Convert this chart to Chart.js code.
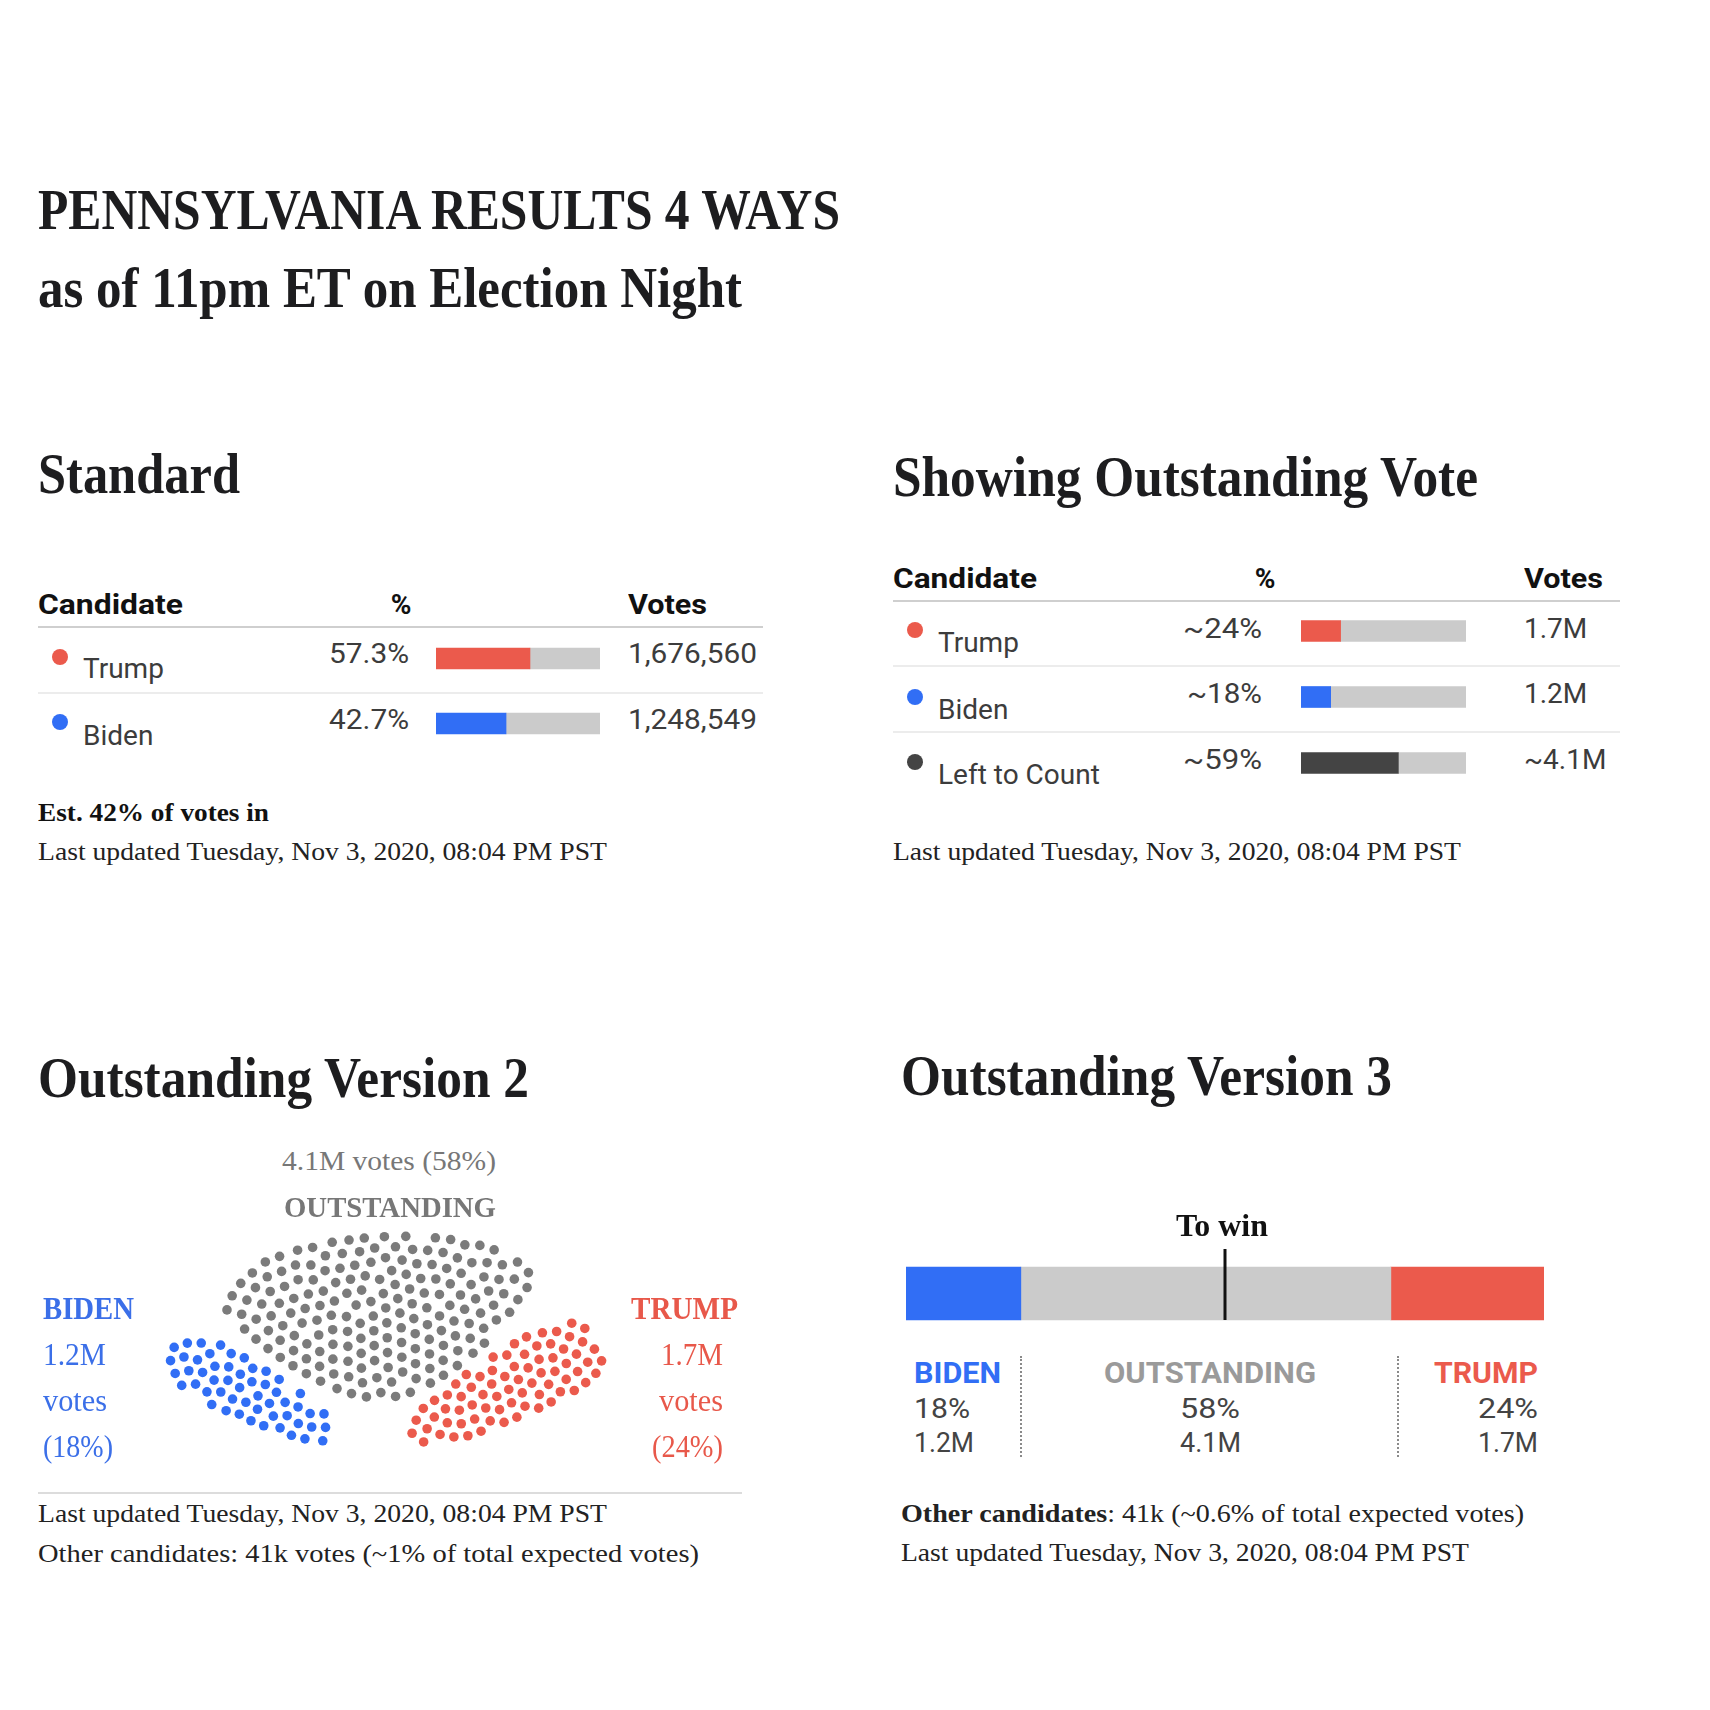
<!DOCTYPE html>
<html><head><meta charset="utf-8">
<script src="https://cdn.jsdelivr.net/npm/chart.js@4"></script>
<style>
html,body{margin:0;padding:0;background:#fff;}
#root{position:relative;width:1710px;height:1710px;overflow:hidden;background:#fff;}
.t{position:absolute;white-space:nowrap;line-height:normal;transform-origin:0 0;}
.serif{font-family:"Liberation Serif","DejaVu Serif",serif;}
.sans{font-family:Roboto,"Liberation Sans",sans-serif;}
canvas{position:absolute;}
.blk{position:absolute;}
</style></head><body><div id="root"></div>
<script>
// ---------------- DATA ----------------
const stdCandidates = ['Trump', 'Biden'];
const stdPct = [57.3, 42.7];
const stdPctLabels = ['57.3%', '42.7%'];
const stdVotes = ['1,676,560', '1,248,549'];

const outCandidates = ['Trump', 'Biden', 'Left to Count'];
const outPct = [24, 18, 59];
const outPctLabels = ['~24%', '~18%', '~59%'];
const outVotes = ['1.7M', '1.2M', '~4.1M'];

const v2Groups = ['Biden', 'Outstanding', 'Trump'];
const v2DotCounts = [53, 181, 74];

const v3Segments = ['BIDEN', 'OUTSTANDING', 'TRUMP'];
const v3Pct = [18, 58, 24];
const v3PctLabels = ['18%', '58%', '24%'];
const v3Votes = ['1.2M', '4.1M', '1.7M'];
const toWinPct = 50;

// ---------------- STYLE ----------------
const RED = '#eb5a4c', BLUE = '#316ef5', TRACK = '#cbcbcb', DARK = '#444444', DOTGRAY = '#7b7b7b';
const INK = '#1d1d1f', BODY = '#3c3c3c';
const root = document.getElementById('root');

function T(html, x, y, o) {
  const d = document.createElement('div');
  d.className = 't ' + (o.cls || 'serif');
  d.style.fontSize = o.size + 'px';
  d.style.fontWeight = o.bold ? '700' : '400';
  d.style.color = o.color || INK;
  d.innerHTML = html + '<span style="display:inline-block;width:0;height:0;vertical-align:baseline"></span>';
  root.appendChild(d);
  const strut = d.lastChild;
  const w = d.getBoundingClientRect().width;
  const k = o.w ? o.w / w : 1;
  const fw = w * k;
  const a = o.anchor || 'left';
  const left = a === 'left' ? x : a === 'right' ? x - fw : x - fw / 2;
  d.style.left = left + 'px';
  d.style.top = (y - strut.offsetTop) + 'px';
  if (k !== 1) d.style.transform = 'scaleX(' + k + ')';
  return d;
}
function box(x, y, w, h, css) {
  const d = document.createElement('div');
  d.className = 'blk';
  d.style.left = x + 'px'; d.style.top = y + 'px';
  d.style.width = w + 'px'; d.style.height = h + 'px';
  Object.assign(d.style, css);
  root.appendChild(d);
  return d;
}
function dot(cx, cy, r, color) { box(cx - r, cy - r, 2 * r, 2 * r, {background: color, borderRadius: '50%'}); }
function canvasAt(left, top, w, h) {
  const c = document.createElement('canvas');
  c.width = w; c.height = h;
  c.style.left = left + 'px'; c.style.top = top + 'px';
  c.style.width = w + 'px'; c.style.height = h + 'px';
  root.appendChild(c);
  return c;
}
function hbar(left, top, w, h, labels, datasets, thickness, plugins) {
  const c = canvasAt(left, top, w, h);
  return new Chart(c, {
    type: 'bar',
    data: {labels, datasets: datasets.map(d => Object.assign({barThickness: thickness, borderWidth: 0, borderSkipped: false}, d))},
    options: {
      indexAxis: 'y', responsive: false, animation: false, devicePixelRatio: 1,
      layout: {padding: 0},
      plugins: {legend: {display: false}, tooltip: {enabled: false}},
      scales: {x: {stacked: true, min: 0, max: 100, display: false}, y: {stacked: true, display: false}}
    },
    plugins: plugins || []
  });
}

// ---------------- HEADINGS ----------------
const H = {size: 58, bold: true, color: INK};
T('PENNSYLVANIA RESULTS 4 WAYS', 38, 229, Object.assign({w: 802}, H));
T('as of 11pm ET on Election Night', 38, 307, Object.assign({w: 704}, H));
T('Standard', 38, 493, Object.assign({w: 202}, H));
T('Showing Outstanding Vote', 893, 496, Object.assign({w: 585}, H));
T('Outstanding Version 2', 38, 1097, Object.assign({w: 491}, H));
T('Outstanding Version 3', 901, 1095, Object.assign({w: 491}, H));

const FOOT = {size: 26, color: '#222'};
const LAST = 'Last updated Tuesday, Nov 3, 2020, 08:04 PM PST';

// ---------------- TABLE 1: STANDARD ----------------
const S = {cls: 'sans', size: 28};
T('Candidate', 38, 614, Object.assign({}, S, {bold: true, color: '#111', w: 145}));
T('%', 401, 614, Object.assign({}, S, {bold: true, color: '#111', anchor: 'center'}));
T('Votes', 628, 614, Object.assign({}, S, {bold: true, color: '#111', w: 79}));
box(38, 626, 725, 2, {background: '#cfcfcf'});
box(38, 692, 725, 2, {background: '#ececec'});
const stdColors = [RED, BLUE];
const t1Rows = [{dot: 657, name: 678, val: 663}, {dot: 722, name: 745, val: 729}];
stdCandidates.forEach((c, i) => {
  dot(60, t1Rows[i].dot, 8, stdColors[i]);
  T(c, 83, t1Rows[i].name, Object.assign({}, S, {color: BODY}));
  T(stdPctLabels[i], 409, t1Rows[i].val, Object.assign({}, S, {color: BODY, anchor: 'right', w: 80}));
  T(stdVotes[i], 628, t1Rows[i].val, Object.assign({}, S, {color: BODY, w: 129}));
});
hbar(436, 626, 164, 130, stdCandidates, [
  {data: stdPct, backgroundColor: stdColors},
  {data: stdPct.map(v => 100 - v), backgroundColor: TRACK}
], 21);
T('Est. 42% of votes in', 38, 821, Object.assign({bold: true, w: 231}, FOOT, {color: '#111'}));
T(LAST, 38, 860, Object.assign({w: 569}, FOOT));

// ---------------- TABLE 2: OUTSTANDING ----------------
T('Candidate', 893, 588, Object.assign({}, S, {bold: true, color: '#111', w: 144}));
T('%', 1265, 588, Object.assign({}, S, {bold: true, color: '#111', anchor: 'center'}));
T('Votes', 1524, 588, Object.assign({}, S, {bold: true, color: '#111', w: 79}));
box(893, 600, 727, 2, {background: '#cfcfcf'});
box(893, 665, 727, 2, {background: '#ececec'});
box(893, 731, 727, 2, {background: '#ececec'});
const outColors = [RED, BLUE, DARK];
const t2Rows = [{dot: 630, name: 652, val: 638}, {dot: 697, name: 719, val: 703}, {dot: 762, name: 784, val: 769}];
const t2PctW = [79, 75, 79];
outCandidates.forEach((c, i) => {
  dot(915, t2Rows[i].dot, 8, outColors[i]);
  T(c, 938, t2Rows[i].name, Object.assign({}, S, {color: BODY}));
  T(outPctLabels[i], 1262, t2Rows[i].val, Object.assign({}, S, {color: BODY, anchor: 'right', w: t2PctW[i]}));
  T(outVotes[i], 1524, t2Rows[i].val, Object.assign({}, S, {color: BODY}));
});
hbar(1301, 598, 165, 198, outCandidates, [
  {data: outPct, backgroundColor: outColors},
  {data: outPct.map(v => 100 - v), backgroundColor: TRACK}
], 21);
T(LAST, 893, 860, Object.assign({w: 568}, FOOT));

// ---------------- VERSION 2: DOT CLUSTERS ----------------
const V2L = 38, V2T = 1215, V2W = 710, V2H = 260;
// cluster outlines (layout only, canvas-local pixels)
function bandShape(cx, cy, a, b, dirDeg, fat, p) {
  const t = dirDeg * Math.PI / 180, c = Math.cos(t), s = Math.sin(t);
  const m = (x, y) => {
    const u = x * c + y * s, v = -x * s + y * c;
    const bb = b * (1 + fat * u / a);
    return Math.abs(u / a) ** p + Math.abs(v / bb) ** p;
  };
  return {cx, cy, ext: Math.max(a, b) * 1.6, inside: (x, y) => m(x, y) <= 1};
}
function fanShape(cx, cy, rx, ryTop, ryBot, taper, rotDeg) {
  const t = rotDeg * Math.PI / 180, c = Math.cos(t), s = Math.sin(t);
  const m = (x, y) => {
    const X = x * c + y * s, Y = -x * s + y * c;
    const ny = Y < 0 ? Y / ryTop : Y / ryBot;
    if (Math.abs(ny) >= 1) return 2;
    const hw = rx * Math.sqrt(1 - ny * ny) * (ny > 0 ? (1 - taper * ny) : 1);
    return Math.max(Math.abs(ny), Math.abs(X) / hw);
  };
  return {cx, cy, ext: rx * 1.3, inside: (x, y) => m(x, y) <= 1};
}
const shapes = [
  bandShape(212, 180, 92, 27, 207.5, 0.3, 3),
  fanShape(340, 78, 157, 60, 107, 0.4, -4),
  bandShape(467, 175, 106, 33, -28, 0.3, 3)
];
// spread n dots evenly inside an outline: sunflower seed + collision relaxation
function layoutDots(shape, n) {
  const GA = Math.PI * (3 - Math.sqrt(5));
  let area = 0;
  for (let y = -shape.ext; y <= shape.ext; y++) for (let x = -shape.ext; x <= shape.ext; x++) if (shape.inside(x, y)) area++;
  const D = 1.02 * Math.sqrt(area / n * 2 / Math.sqrt(3));
  const base = [];
  for (let i = 0; i < 4000; i++) { const r = Math.sqrt(i + 0.5), a = i * GA; base.push([r * Math.cos(a), r * Math.sin(a)]); }
  let lo = 0.5, hi = 40;
  for (let it = 0; it < 60; it++) {
    const s = (lo + hi) / 2;
    const cnt = base.reduce((acc, q) => acc + (shape.inside(q[0] * s, q[1] * s) ? 1 : 0), 0);
    if (cnt >= n) lo = s; else hi = s;
  }
  const pts = base.map(q => [q[0] * lo, q[1] * lo]).filter(q => shape.inside(q[0], q[1])).slice(0, n);
  const pull = q => {
    if (shape.inside(q[0], q[1])) return;
    let a = 0, b = 1;
    for (let k = 0; k < 30; k++) { const m = (a + b) / 2; if (shape.inside(q[0] * m, q[1] * m)) a = m; else b = m; }
    q[0] *= a; q[1] *= a;
  };
  for (let it = 0; it < 220; it++) {
    for (let i = 0; i < pts.length; i++) for (let j = i + 1; j < pts.length; j++) {
      const dx = pts[j][0] - pts[i][0], dy = pts[j][1] - pts[i][1];
      const d = Math.hypot(dx, dy);
      if (d < D && d > 1e-6) {
        const f = (D - d) / d * 0.25;
        pts[i][0] -= dx * f; pts[i][1] -= dy * f;
        pts[j][0] += dx * f; pts[j][1] += dy * f;
      }
    }
    pts.forEach(pull);
  }
  return pts.map(q => ({x: shape.cx + q[0], y: shape.cy + q[1]}));
}
const v2Colors = [BLUE, DOTGRAY, RED];
const sc = canvasAt(V2L, V2T, V2W, V2H);
new Chart(sc, {
  type: 'scatter',
  data: {datasets: v2Groups.map((g, i) => ({
    label: g, data: layoutDots(shapes[i], v2DotCounts[i]),
    backgroundColor: v2Colors[i], borderWidth: 0, pointRadius: 4.8, pointHoverRadius: 4.8
  }))},
  options: {
    responsive: false, animation: false, devicePixelRatio: 1, layout: {padding: 0},
    plugins: {legend: {display: false}, tooltip: {enabled: false}},
    scales: {x: {type: 'linear', min: 0, max: V2W, display: false}, y: {type: 'linear', min: 0, max: V2H, reverse: true, display: false}}
  }
});
T('4.1M votes (58%)', 389, 1170, {size: 28, color: '#777', anchor: 'center', w: 214});
T('OUTSTANDING', 390, 1217, {size: 30, bold: true, color: '#777', anchor: 'center', w: 212});
const BL = '#3b6fe8', RL = '#e8584a';
T('BIDEN', 43, 1319, {size: 32, bold: true, color: BL, w: 91});
T(v3Votes[0], 43, 1365, {size: 32, color: BL, w: 63});
T('votes', 43, 1411, {size: 32, color: BL, w: 64});
T('(' + v3PctLabels[0] + ')', 43, 1457, {size: 32, color: BL, w: 70});
T('TRUMP', 738, 1319, {size: 32, bold: true, color: RL, anchor: 'right', w: 107});
T(v3Votes[2], 723, 1365, {size: 32, color: RL, anchor: 'right', w: 62});
T('votes', 723, 1411, {size: 32, color: RL, anchor: 'right', w: 64});
T('(' + v3PctLabels[2] + ')', 723, 1457, {size: 32, color: RL, anchor: 'right', w: 71});
box(38, 1492, 704, 2, {background: '#dcdcdc'});
T(LAST, 38, 1522, Object.assign({w: 569}, FOOT));
T('Other candidates: 41k votes (~1% of total expected votes)', 38, 1562, Object.assign({w: 661}, FOOT));

// ---------------- VERSION 3: STACKED BAR ----------------
const markerPlugin = {
  id: 'towin',
  afterDatasetsDraw(chart) {
    const x = chart.scales.x.getPixelForValue(toWinPct);
    const meta = chart.getDatasetMeta(0).data[0];
    const bottom = meta.y + meta.height / 2;
    const ctx = chart.ctx;
    ctx.save(); ctx.strokeStyle = '#111'; ctx.lineWidth = 3;
    ctx.beginPath(); ctx.moveTo(x, 9); ctx.lineTo(x, bottom); ctx.stroke(); ctx.restore();
  }
};
const v3Colors = [BLUE, TRACK, RED];
hbar(906, 1240, 638, 107, [''], v3Segments.map((s, i) => ({label: s, data: [v3Pct[i]], backgroundColor: v3Colors[i]})), 53, [markerPlugin]);
T('To win', 1222, 1236, {size: 31, bold: true, color: '#111', anchor: 'center', w: 92});
const VS = {cls: 'sans', size: 28, color: DARK};
const VB = {cls: 'sans', size: 29, bold: true};
T(v3Segments[0], 914, 1383, Object.assign({}, VB, {color: BLUE, w: 87}));
T(v3PctLabels[0], 914, 1418, Object.assign({}, VS, {w: 56}));
T(v3Votes[0], 914, 1452, Object.assign({}, VS, {w: 60}));
T(v3Segments[1], 1210, 1383, Object.assign({}, VB, {color: '#9a9a9a', anchor: 'center', w: 212}));
T(v3PctLabels[1], 1210, 1418, Object.assign({}, VS, {anchor: 'center', w: 60}));
T(v3Votes[1], 1210, 1452, Object.assign({}, VS, {anchor: 'center', w: 61}));
T(v3Segments[2], 1538, 1383, Object.assign({}, VB, {color: RED, anchor: 'right', w: 104}));
T(v3PctLabels[2], 1538, 1418, Object.assign({}, VS, {anchor: 'right', w: 60}));
T(v3Votes[2], 1538, 1452, Object.assign({}, VS, {anchor: 'right', w: 60}));
box(1020, 1356, 0, 101, {borderLeft: '2px dotted #8a8a8a'});
box(1397, 1356, 0, 101, {borderLeft: '2px dotted #8a8a8a'});
T('<b>Other candidates</b>: 41k (~0.6% of total expected votes)', 901, 1522, Object.assign({w: 623}, FOOT));
T(LAST, 901, 1561, Object.assign({w: 568}, FOOT));
</script></body></html>
